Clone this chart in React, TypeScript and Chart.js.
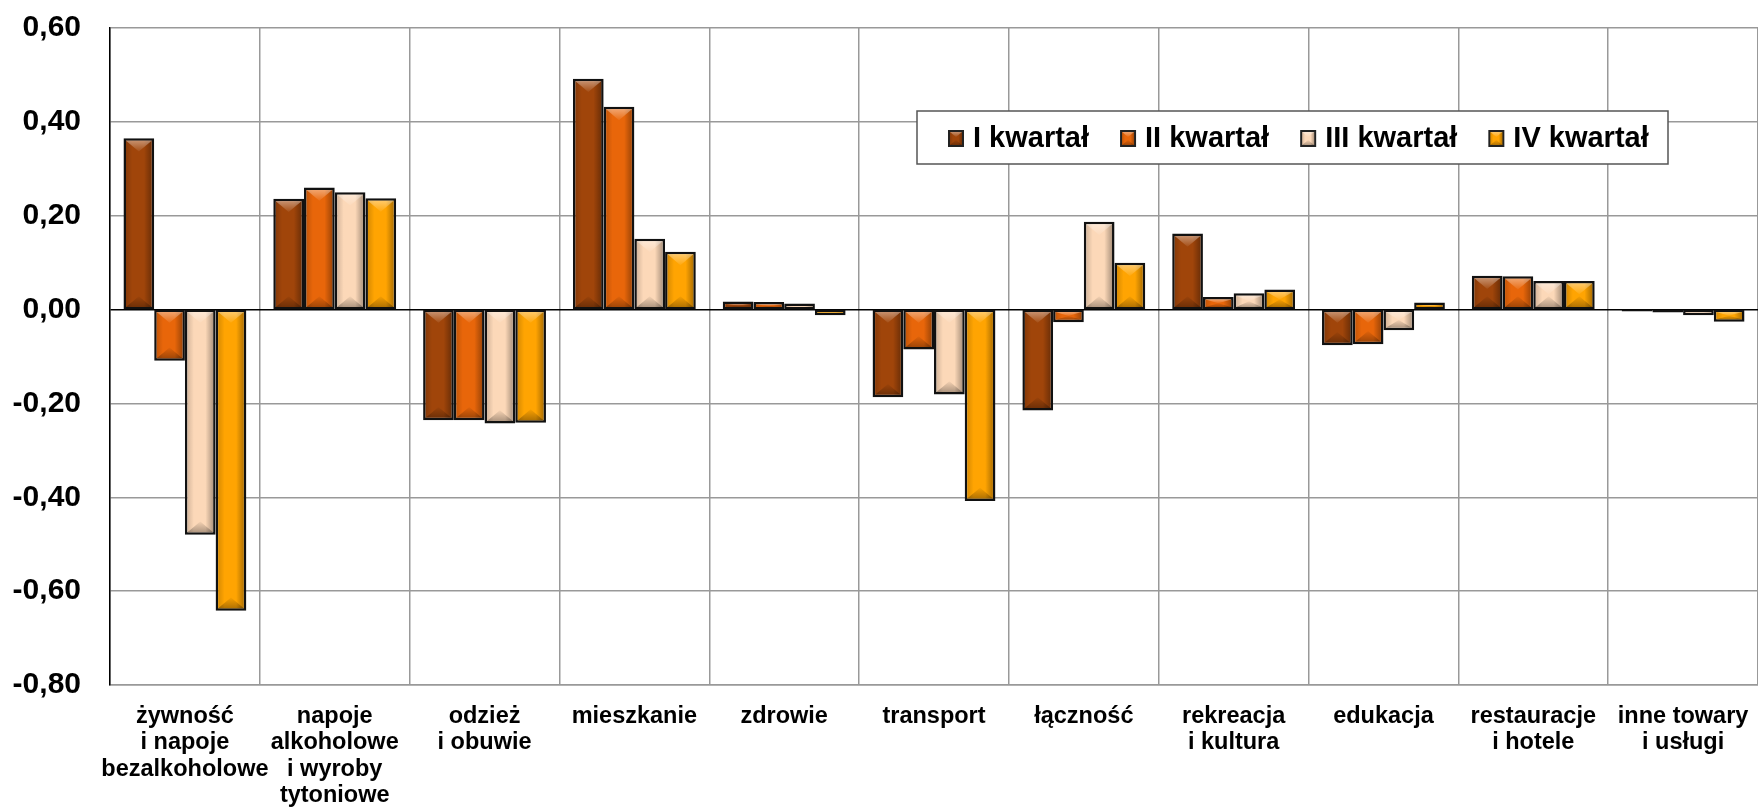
import React, { useEffect, useRef } from "react";
import { Chart, registerables } from "chart.js";

Chart.register(...registerables);

const categories: (string | string[])[] = [
  ["żywność", "i napoje", "bezalkoholowe"],
  ["napoje", "alkoholowe", "i wyroby", "tytoniowe"],
  ["odzież", "i obuwie"],
  "mieszkanie",
  "zdrowie",
  "transport",
  "łączność",
  ["rekreacja", "i kultura"],
  "edukacja",
  ["restauracje", "i hotele"],
  ["inne towary", "i usługi"],
];

const seriesNames = ["I kwartał", "II kwartał", "III kwartał", "IV kwartał"];

const q1 = [0.365, 0.236, -0.236, 0.492, 0.017, -0.187, -0.215, 0.162, -0.076, 0.072, -0.004];
const q2 = [-0.109, 0.26, -0.236, 0.432, 0.016, -0.085, -0.027, 0.027, -0.074, 0.071, -0.006];
const q3 = [-0.48, 0.25, -0.243, 0.151, 0.013, -0.181, 0.187, 0.035, -0.044, 0.061, -0.012];
const q4 = [-0.642, 0.237, -0.241, 0.123, -0.012, -0.408, 0.1, 0.043, 0.015, 0.061, -0.026];

const seriesColors = ["#A0450A", "#E8660A", "#FCD8B8", "#FFA402"];

const yMin = -0.8;
const yMax = 0.6;
const yStep = 0.2;

const FONT = "'Liberation Sans', Arial, Helvetica, sans-serif";

function drawBevel(ctx: CanvasRenderingContext2D, l: number, t: number, r: number, b: number) {
  const w = r - l;
  const h = b - t;
  if (w <= 0 || h <= 0) return;
  const cx = (l + r) / 2;
  ctx.save();
  const g = ctx.createLinearGradient(l, 0, r, 0);
  g.addColorStop(0, "rgba(0,0,0,0.15)");
  g.addColorStop(0.25, "rgba(0,0,0,0)");
  g.addColorStop(0.7, "rgba(0,0,0,0)");
  g.addColorStop(1, "rgba(0,0,0,0.3)");
  ctx.fillStyle = g;
  ctx.fillRect(l, t, w, h);
  const d = Math.min(w * 0.42, h / 2);
  ctx.beginPath();
  ctx.moveTo(l, t);
  ctx.lineTo(r, t);
  ctx.lineTo(cx, t + d);
  ctx.closePath();
  const gt = ctx.createLinearGradient(0, t, 0, t + d);
  gt.addColorStop(0, "rgba(255,255,255,0.4)");
  gt.addColorStop(1, "rgba(255,255,255,0.05)");
  ctx.fillStyle = gt;
  ctx.fill();
  ctx.beginPath();
  ctx.moveTo(l, b);
  ctx.lineTo(r, b);
  ctx.lineTo(cx, b - d);
  ctx.closePath();
  const gb = ctx.createLinearGradient(0, b, 0, b - d);
  gb.addColorStop(0, "rgba(0,0,0,0.3)");
  gb.addColorStop(1, "rgba(0,0,0,0.03)");
  ctx.fillStyle = gb;
  ctx.fill();
  ctx.restore();
}

const bevelPlugin = {
  id: "bevelBars",
  afterDatasetsDraw(chart: any) {
    const ctx: CanvasRenderingContext2D = chart.ctx;
    const area = chart.chartArea;
    ctx.save();
    ctx.beginPath();
    ctx.rect(area.left, area.top, area.right - area.left, area.bottom - area.top);
    ctx.clip();
    chart.data.datasets.forEach((_ds: any, i: number) => {
      const meta = chart.getDatasetMeta(i);
      meta.data.forEach((bar: any) => {
        const p = bar.getProps(["x", "y", "base", "width"], true);
        const l = p.x - p.width / 2 + 2.5;
        const r = p.x + p.width / 2 - 2.5;
        const t = Math.min(p.y, p.base) + 2.5;
        const b = Math.max(p.y, p.base) - 2.5;
        drawBevel(ctx, l, t, r, b);
      });
    });
    ctx.restore();
  },
};

const legendPlugin = {
  id: "boxLegend",
  afterDraw(chart: any) {
    const ctx: CanvasRenderingContext2D = chart.ctx;
    const area = chart.chartArea;
    const boxL = area.left + 807;
    const boxT = area.top + 83;
    const boxW = 751;
    const boxH = 53;
    ctx.save();
    ctx.fillStyle = "#ffffff";
    ctx.fillRect(boxL, boxT, boxW, boxH);
    ctx.strokeStyle = "#555555";
    ctx.lineWidth = 1.5;
    ctx.strokeRect(boxL, boxT, boxW, boxH);
    ctx.font = `bold 29px ${FONT}`;
    ctx.textBaseline = "middle";
    ctx.textAlign = "left";
    const cy = boxT + 27;
    let x = boxL + 32;
    chart.data.datasets.forEach((ds: any, i: number) => {
      const ms = 14;
      ctx.fillStyle = seriesColors[i];
      ctx.fillRect(x, cy - 7, ms, 15);
      drawBevel(ctx, x + 1, cy - 6, x + ms - 1, cy + 7);
      ctx.strokeStyle = "#222222";
      ctx.lineWidth = 2;
      ctx.strokeRect(x, cy - 7, ms, 15);
      ctx.fillStyle = "#000000";
      const tx = x + 24;
      ctx.fillText(ds.label, tx, cy + 1);
      const tw = ctx.measureText(ds.label).width;
      x = tx + tw + 32;
    });
    ctx.restore();
  },
};

export default function App() {
  const canvasRef = useRef<HTMLCanvasElement | null>(null);

  useEffect(() => {
    const canvas = canvasRef.current;
    if (!canvas) return;
    const allSeries = [q1, q2, q3, q4];
    const chart = new Chart(canvas, {
      type: "bar",
      data: {
        labels: categories,
        datasets: allSeries.map((vals, i) => ({
          label: seriesNames[i],
          data: vals,
          backgroundColor: seriesColors[i],
          borderColor: "#111111",
          borderWidth: 2.5,
          borderSkipped: false,
          categoryPercentage: 0.82,
          barPercentage: 1.0,
        })),
      },
      options: {
        responsive: false,
        animation: false,
        devicePixelRatio: 1,
        layout: { padding: { top: 28, left: 0, right: 0, bottom: 0 } },
        plugins: {
          legend: { display: false },
          tooltip: { enabled: false },
        },
        scales: {
          x: {
            offset: true,
            grid: {
              offset: true,
              color: "#999999",
              lineWidth: 1.5,
              drawTicks: false,
            },
            border: { color: "#999999", width: 1.5 },
            ticks: {
              autoSkip: false,
              maxRotation: 0,
              minRotation: 0,
              padding: 18,
              color: "#000000",
              font: { family: FONT, size: 23.5, weight: "bold", lineHeight: 1.13 },
            },
            afterFit: (scale: any) => {
              scale.height = 124;
              scale.paddingLeft = 0;
              scale.paddingRight = 0;
            },
          },
          y: {
            min: yMin,
            max: yMax,
            ticks: {
              stepSize: yStep,
              padding: 29,
              color: "#000000",
              font: { family: FONT, size: 30, weight: "bold" },
              callback: (value: any) => {
                const v = Math.abs(Number(value)) < 1e-9 ? 0 : Number(value);
                return v.toFixed(2).replace(".", ",");
              },
            },
            grid: {
              drawTicks: false,
              lineWidth: 1.5,
              color: (c: any) => (c.tick && Math.abs(c.tick.value) < 1e-9 ? "#000000" : "#999999"),
            },
            border: { color: "#000000", width: 1.5 },
            afterFit: (scale: any) => {
              scale.width = 110;
              scale.paddingTop = 0;
              scale.paddingBottom = 0;
            },
          },
        },
      },
      plugins: [bevelPlugin, legendPlugin],
    } as any);
    return () => {
      chart.destroy();
    };
  }, []);

  return (
    <div style={{ position: "absolute", left: 0, top: 0, width: 1758, height: 809, background: "#ffffff" }}>
      <canvas ref={canvasRef} width={1758} height={809} style={{ display: "block" }} />
    </div>
  );
}
